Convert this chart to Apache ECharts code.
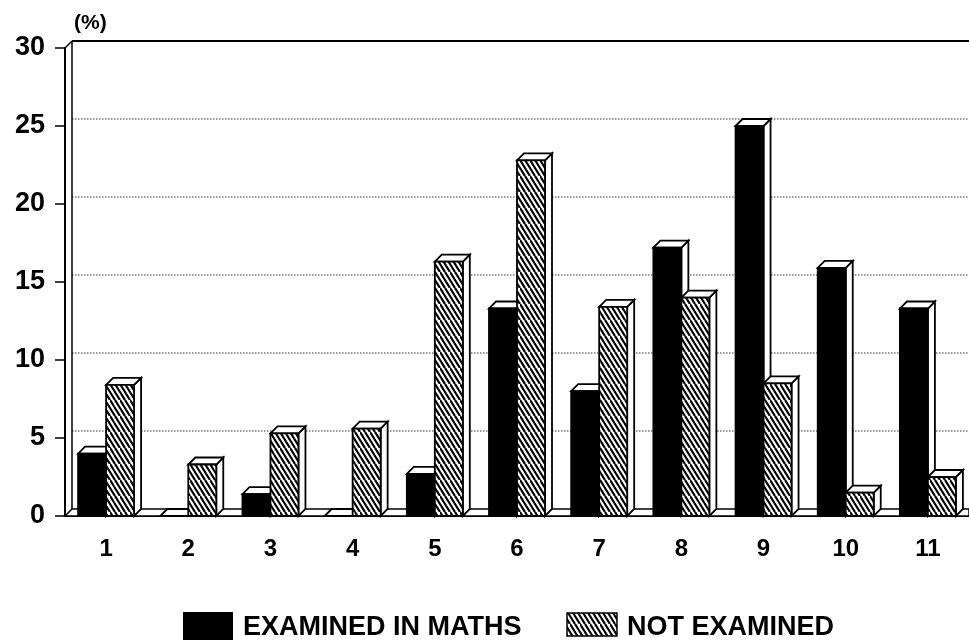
<!DOCTYPE html>
<html>
<head>
<meta charset="utf-8">
<script src="https://cdn.jsdelivr.net/npm/echarts@6/dist/echarts.min.js"></script>
<style>
  html, body { margin: 0; padding: 0; background: #fff; }
  #chart { width: 969px; height: 644px; }
</style>
</head>
<body>
<div id="chart"></div>
<script>
// Age groups / classes along the horizontal axis
const categories = ['1', '2', '3', '4', '5', '6', '7', '8', '9', '10', '11'];
// Share of pupils (%) in each group
const examinedInMaths = [4.0, 0, 1.4, 0, 2.7, 13.3, 8.0, 17.2, 25.0, 15.9, 13.3];
const notExamined = [8.4, 3.3, 5.3, 5.6, 16.3, 22.8, 13.4, 14.0, 8.5, 1.5, 2.5];
const yTicks = [0, 5, 10, 15, 20, 25, 30];
const seriesNames = ['EXAMINED IN MATHS', 'NOT EXAMINED'];

const FONT = '"Liberation Sans", Arial, Helvetica, sans-serif';
const D = 7;        // depth of the pseudo-3D offset
const BAR_W = 28;   // width of each bar's front face

// Diagonal hatching used for the second series
function makeHatch() {
  const c = document.createElement('canvas');
  c.width = 10; c.height = 16;
  const g = c.getContext('2d');
  g.fillStyle = '#fff';
  g.fillRect(0, 0, 10, 16);
  g.strokeStyle = '#000';
  g.lineWidth = 2.2;
  for (let x = -10; x <= 5; x += 5) {
    g.beginPath();
    g.moveTo(x, 0);
    g.lineTo(x + 10, 16);
    g.stroke();
  }
  return c;
}
const hatch = { image: makeHatch(), repeat: 'repeat' };

// Floor, back wall and dotted gridlines of the box
function renderFrame(params, api) {
  const cs = params.coordSys;
  const x0 = cs.x;
  const xR = 969;
  const yAt = v => api.coord([0, v])[1];
  const y0 = yAt(0);
  const yTop = yAt(yTicks[yTicks.length - 1]);
  const children = [];
  children.push({
    type: 'polygon',
    shape: { points: [[x0, y0], [x0 + D, y0 - D], [xR, y0 - D], [xR, y0]] },
    style: { fill: '#fff', stroke: '#000', lineWidth: 1.5 }
  });
  yTicks.forEach(v => {
    if (v === 0) return;
    const y = yAt(v) - D;
    const last = v === yTicks[yTicks.length - 1];
    children.push({
      type: 'line',
      shape: { x1: x0 + D, y1: y, x2: xR, y2: y },
      style: last ? { stroke: '#000', lineWidth: 2 } : { stroke: '#333', lineWidth: 1, lineDash: [1.5, 1.5] }
    });
  });
  children.push({
    type: 'line',
    shape: { x1: x0 + D, y1: y0 - D, x2: x0 + D, y2: yTop - D },
    style: { stroke: '#000', lineWidth: 1.5 }
  });
  children.push({
    type: 'line',
    shape: { x1: x0, y1: yTop, x2: x0 + D, y2: yTop - D },
    style: { stroke: '#000', lineWidth: 1.5 }
  });
  return { type: 'group', children };
}

// One pseudo-3D bar: front face, top face and right side face
function barRenderer(offset, fill) {
  return function (params, api) {
    const cat = api.value(0);
    const v = api.value(1);
    const top = api.coord([cat, v]);
    const base = api.coord([cat, 0]);
    const xa = top[0] + offset;
    const xb = xa + BAR_W;
    const yt = top[1];
    const y0 = base[1];
    const line = { stroke: '#000', lineWidth: 1.8, lineJoin: 'miter' };
    return {
      type: 'group',
      children: [
        {
          type: 'polygon',
          shape: { points: [[xb, yt], [xb + D, yt - D], [xb + D, y0 - D], [xb, y0]] },
          style: Object.assign({ fill: '#fff' }, line)
        },
        {
          type: 'polygon',
          shape: { points: [[xa, yt], [xa + D, yt - D], [xb + D, yt - D], [xb, yt]] },
          style: Object.assign({ fill: '#fff' }, line)
        },
        {
          type: 'rect',
          shape: { x: xa, y: yt, width: BAR_W, height: y0 - yt },
          style: Object.assign({ fill: fill }, line)
        }
      ]
    };
  };
}

const chart = echarts.init(document.getElementById('chart'), null, { renderer: 'canvas' });

chart.setOption({
  animation: false,
  backgroundColor: '#fff',
  title: {
    text: '(%)',
    left: 69,
    top: 8,
    textStyle: { fontFamily: FONT, fontSize: 21, fontWeight: 'bold', color: '#000' }
  },
  grid: { left: 65, right: 0, top: 48, bottom: 128 },
  xAxis: {
    type: 'category',
    data: categories,
    axisLine: { lineStyle: { color: '#000', width: 2 } },
    axisTick: { alignWithLabel: true, length: 9, lineStyle: { color: '#000', width: 1.5 } },
    axisLabel: { fontFamily: FONT, fontSize: 24, fontWeight: 'bold', color: '#000', margin: 21 },
    splitLine: { show: false }
  },
  yAxis: {
    type: 'value',
    min: 0,
    max: 30,
    interval: 5,
    axisLine: { show: true, lineStyle: { color: '#000', width: 2 } },
    axisTick: { show: true, length: 10, lineStyle: { color: '#000', width: 1.5 } },
    axisLabel: { fontFamily: FONT, fontSize: 27, fontWeight: 'bold', color: '#000', margin: 20 },
    splitLine: { show: false }
  },
  graphic: [
    { type: 'rect', shape: { x: 183, y: 612, width: 50, height: 28 }, style: { fill: '#000' } },
    {
      type: 'text', x: 243, y: 628,
      style: { text: seriesNames[0], fill: '#000', fontFamily: FONT, fontSize: 27, fontWeight: 'bold', verticalAlign: 'middle' }
    },
    { type: 'rect', shape: { x: 567, y: 613, width: 50, height: 23 }, style: { fill: hatch, stroke: '#000', lineWidth: 1.5 } },
    {
      type: 'text', x: 627, y: 628,
      style: { text: seriesNames[1], fill: '#000', fontFamily: FONT, fontSize: 27, fontWeight: 'bold', verticalAlign: 'middle' }
    }
  ],
  series: [
    {
      type: 'custom',
      name: 'frame',
      z: 1,
      clip: false,
      silent: true,
      renderItem: renderFrame,
      data: [[0, 0]]
    },
    {
      type: 'custom',
      name: seriesNames[0],
      z: 2,
      clip: false,
      renderItem: barRenderer(-BAR_W, '#000'),
      data: examinedInMaths.map((v, i) => [i, v])
    },
    {
      type: 'custom',
      name: seriesNames[1],
      z: 3,
      clip: false,
      renderItem: barRenderer(0, hatch),
      data: notExamined.map((v, i) => [i, v])
    }
  ]
});
</script>
</body>
</html>
